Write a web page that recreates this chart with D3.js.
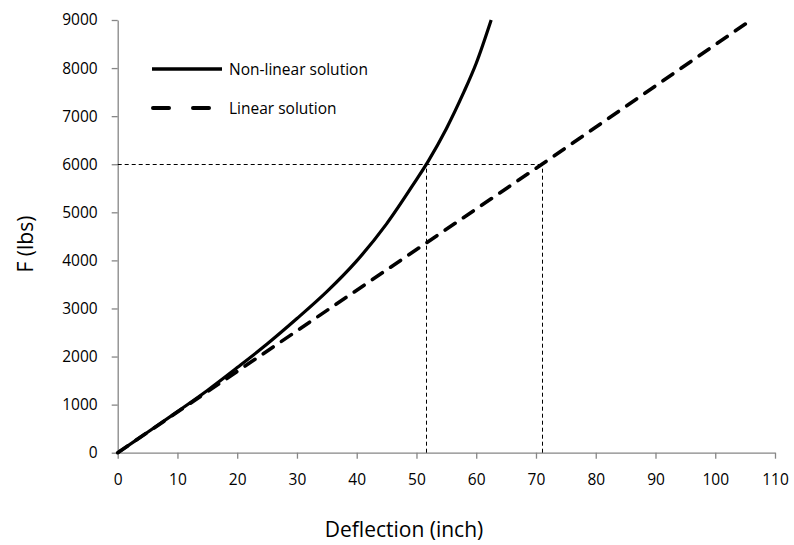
<!DOCTYPE html>
<html>
<head>
<meta charset="utf-8">
<script src="https://cdn.jsdelivr.net/npm/d3@7"></script>
<style>
  html, body { margin: 0; padding: 0; background: #fff; }
  svg { display: block; }
  text { font-family: "Open Sans", "Liberation Sans", sans-serif; fill: #000; }
</style>
</head>
<body>
<svg id="chart" width="794" height="545"></svg>
<script>
// ---- data ----
const nonLinearX = [0, 5, 10, 15, 20, 25, 30, 35, 40, 45, 50, 52, 55, 58, 60, 62.5];
const nonLinearF = [0, 425, 855, 1295, 1770, 2260, 2790, 3350, 3990, 4760, 5680, 6070, 6740, 7520, 8100, 9000];
const linearX = [0, 71, 106];
const linearF = [0, 6000, 9000];
const guideLevel = 6000;
const guideX = [51.6, 71];
const xTicks = [0, 10, 20, 30, 40, 50, 60, 70, 80, 90, 100, 110];
const yTicks = [0, 1000, 2000, 3000, 4000, 5000, 6000, 7000, 8000, 9000];
const seriesNames = ["Non-linear solution", "Linear solution"];
const xTitle = "Deflection (inch)";
const yTitle = "F (lbs)";

// ---- layout ----
const svg = d3.select("#chart");
const x = d3.scaleLinear().domain([0, 110]).range([117.7, 775]);
const y = d3.scaleLinear().domain([0, 9000]).range([452.7, 20]);
const axisColor = "#868686";

// axes
const gx = svg.append("g").attr("transform", `translate(0,${y(0)})`)
  .call(d3.axisBottom(x).tickValues(xTicks).tickFormat(d3.format("d"))
    .tickSize(6).tickPadding(15).tickSizeOuter(0));
const gy = svg.append("g").attr("transform", `translate(${x(0)},0)`)
  .call(d3.axisLeft(y).tickValues(yTicks).tickFormat(d3.format("d"))
    .tickSize(6).tickPadding(14).tickSizeOuter(0));
[gx, gy].forEach(g => {
  g.select(".domain").attr("stroke", axisColor).attr("stroke-width", 1.3);
  g.selectAll(".tick line").attr("stroke", axisColor).attr("stroke-width", 1.3);
  g.selectAll(".tick text").attr("font-size", 15.5).attr("font-family", "Open Sans").attr("fill", "#000");
});

// guide lines (snapped to half pixels for crisp 1px dashes)
const snap = v => Math.round(v) + 0.5;
const guide = svg.append("g").attr("fill", "none").attr("stroke", "#000")
  .attr("stroke-width", 1).attr("stroke-dasharray", "4,3");
guide.append("line").attr("x1", x(0)).attr("x2", snap(x(guideX[1])))
  .attr("y1", snap(y(guideLevel))).attr("y2", snap(y(guideLevel)));
guideX.forEach(v => {
  guide.append("line").attr("x1", snap(x(v))).attr("x2", snap(x(v)))
    .attr("y1", y(0)).attr("y2", snap(y(guideLevel)));
});

// series
const nl = nonLinearX.map((v, i) => [v, nonLinearF[i]]);
const li = linearX.map((v, i) => [v, linearF[i]]);

svg.append("path").datum(li)
  .attr("d", d3.line().x(d => x(d[0])).y(d => y(d[1])))
  .attr("fill", "none").attr("stroke", "#000").attr("stroke-width", 3.6)
  .attr("stroke-dasharray", "12,10").attr("stroke-linecap", "round");

svg.append("path").datum(nl)
  .attr("d", d3.line().x(d => x(d[0])).y(d => y(d[1])).curve(d3.curveCatmullRom.alpha(0.5)))
  .attr("fill", "none").attr("stroke", "#000").attr("stroke-width", 3.2)
  .attr("stroke-linejoin", "round");

// legend
const lg = svg.append("g");
lg.append("line").attr("x1", 152).attr("x2", 222).attr("y1", 69).attr("y2", 69)
  .attr("stroke", "#000").attr("stroke-width", 3.6);
lg.append("line").attr("x1", 153).attr("x2", 222).attr("y1", 108).attr("y2", 108)
  .attr("stroke", "#000").attr("stroke-width", 4).attr("stroke-linecap", "round")
  .attr("stroke-dasharray", "16,24");
lg.append("text").attr("x", 229).attr("y", 75).attr("font-size", 15.5).text(seriesNames[0]);
lg.append("text").attr("x", 229).attr("y", 114).attr("font-size", 15.5).text(seriesNames[1]);

// axis titles
svg.append("text").attr("x", 404).attr("y", 537).attr("text-anchor", "middle")
  .attr("font-size", 21).text(xTitle);
svg.append("text").attr("transform", "translate(33,244) rotate(-90)")
  .attr("text-anchor", "middle").attr("font-size", 21).text(yTitle);
</script>
</body>
</html>
